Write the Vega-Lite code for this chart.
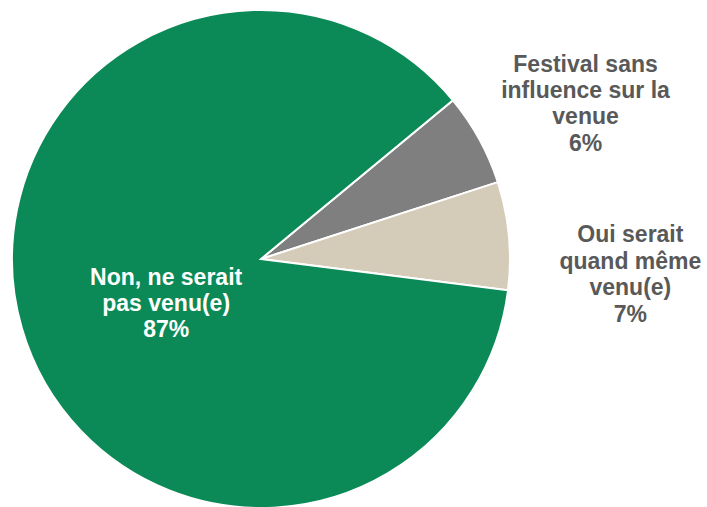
{
  "$schema": "https://vega.github.io/schema/vega-lite/v6.json",
  "width": 522,
  "height": 518,
  "padding": {"left": 0, "top": 0, "right": 185, "bottom": 0},
  "autosize": {"type": "none"},
  "background": "white",
  "config": {"view": {"stroke": null}},
  "data": {"values": [
    {"cat": "Festival sans influence sur la venue", "value": 6, "label": "Festival sans\ninfluence sur la\nvenue\n6%"},
    {"cat": "Oui serait quand même venu(e)", "value": 7, "label": "Oui serait\nquand même\nvenu(e)\n7%"},
    {"cat": "Non, ne serait pas venu(e)", "value": 87, "label": "Non, ne serait\npas venu(e)\n87%"}
  ]},
  "encoding": {
    "theta": {"field": "value", "type": "quantitative", "stack": true, "scale": {"range": [0.88, 7.1632]}},
    "order": {"field": "value", "sort": "ascending"}
  },
  "layer": [
    {
      "mark": {"type": "arc", "outerRadius": 249, "stroke": "white", "strokeWidth": 2},
      "encoding": {
        "color": {"field": "cat", "type": "nominal", "legend": null,
          "scale": {"domain": ["Festival sans influence sur la venue", "Oui serait quand même venu(e)", "Non, ne serait pas venu(e)"],
                    "range": ["#7F7F7F", "#D4CCB9", "#0B8A57"]}}
      }
    },
    {
      "mark": {"type": "text", "radius": 360, "dx": 9, "dy": -21, "font": "Liberation Sans", "fontWeight": "bold", "fontSize": 23, "lineHeight": 26.4, "lineBreak": "\n", "color": "#595959", "align": "center", "baseline": "middle"},
      "encoding": {"text": {"condition": {"test": "datum.value === 6", "field": "label"}, "value": ""}}
    },
    {
      "mark": {"type": "text", "radius": 369, "dx": 2, "dy": 11, "font": "Liberation Sans", "fontWeight": "bold", "fontSize": 23, "lineHeight": 26.4, "lineBreak": "\n", "color": "#595959", "align": "center", "baseline": "middle"},
      "encoding": {"text": {"condition": {"test": "datum.value === 7", "field": "label"}, "value": ""}}
    },
    {
      "mark": {"type": "text", "radius": 105, "dx": 6, "dy": -10, "font": "Liberation Sans", "fontWeight": "bold", "fontSize": 23, "lineHeight": 26, "lineBreak": "\n", "color": "white", "align": "center", "baseline": "middle"},
      "encoding": {"text": {"condition": {"test": "datum.value === 87", "field": "label"}, "value": ""}}
    }
  ]
}
